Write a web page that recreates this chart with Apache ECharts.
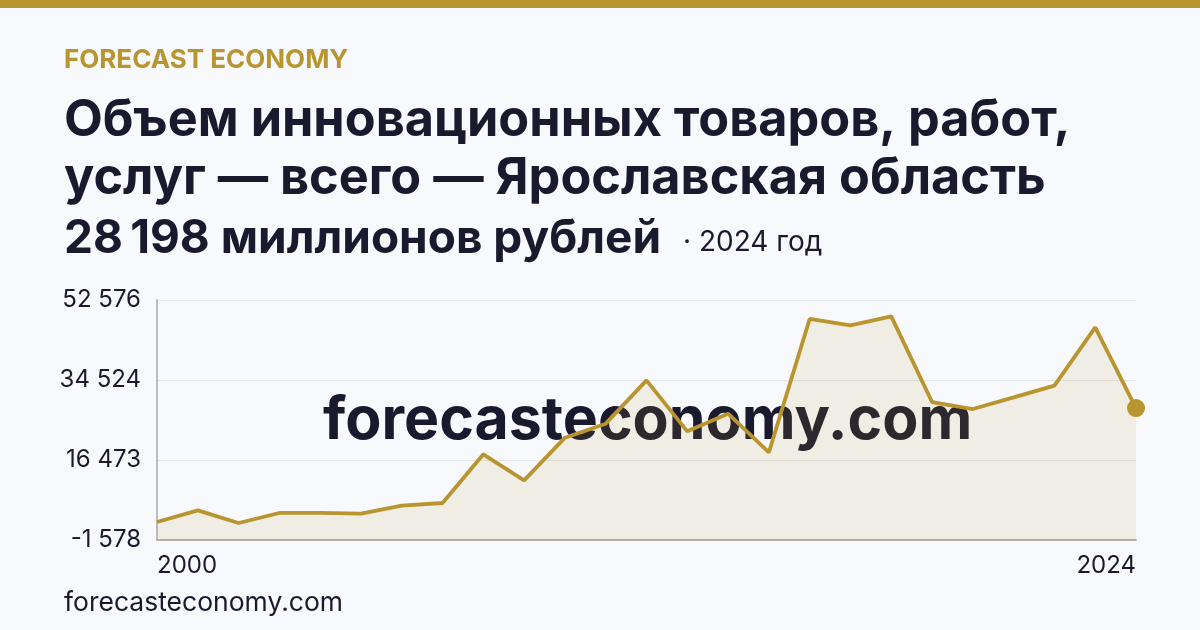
<!DOCTYPE html>
<html>
<head>
<meta charset="utf-8">
<script src="https://cdn.jsdelivr.net/npm/echarts@6/dist/echarts.min.js"></script>
<style>
html,body{margin:0;padding:0;background:#f7f9fc;}
#chart{width:1200px;height:630px;}
</style>
</head>
<body>
<div id="chart"></div>
<script>
// Data
const years = ['2000','2001','2002','2003','2004','2005','2006','2007','2008','2009','2010','2011','2012','2013','2014','2015','2016','2017','2018','2019','2020','2021','2022','2023','2024'];
const values = [2480, 5120, 2260, 4520, 4520, 4370, 6170, 6770, 17750, 11890, 21510, 24670, 34450, 22940, 26930, 18200, 48290, 46860, 48890, 29560, 27980, 30610, 33250, 46410, 28198];
const yTicks = [-1578, 16473, 34524, 52576];

const brand = 'FORECAST ECONOMY';
const titleLines = ['Объем инновационных товаров, работ,', 'услуг — всего — Ярославская область'];
const headline = '28\u202F198 миллионов рублей';
const subline = '· 2024 год';
const site = 'forecasteconomy.com';

const gold = '#b8952e';
const ink = '#1a1a2e';
const FONT = 'Inter, "Noto Sans", sans-serif';

function fmt(n){
  const s = String(Math.abs(n)).replace(/\B(?=(\d{3})+(?!\d))/g, ' ');
  return (n < 0 ? '-' : '') + s;
}
function tickLabel(v){
  let best = yTicks[0];
  yTicks.forEach(t => { if (Math.abs(t - v) < Math.abs(best - v)) best = t; });
  return fmt(best);
}

const chart = echarts.init(document.getElementById('chart'), null, {renderer:'canvas'});
const yMin = yTicks[0], yMax = yTicks[yTicks.length-1];
const lastIdx = values.length - 1;

chart.setOption({
  backgroundColor: '#f7f9fc',
  animation: false,
  grid: {left: 157, right: 64, top: 300, bottom: 90, containLabel: false},
  xAxis: {
    type: 'category',
    data: years,
    boundaryGap: false,
    axisLine: {show: true, onZero: false, lineStyle: {color: '#b7b2a6', width: 2}},
    axisTick: {show: false},
    splitLine: {show: false},
    axisLabel: {
      interval: lastIdx - 1,
      color: ink, fontFamily: FONT, fontSize: 24, margin: 14,
      alignMinLabel: 'left', alignMaxLabel: 'right'
    }
  },
  yAxis: {
    type: 'value',
    min: yMin, max: yMax,
    interval: (yMax - yMin) / (yTicks.length - 1),
    axisLine: {show: true, lineStyle: {color: '#bdbdbd', width: 2}},
    axisTick: {show: false},
    splitLine: {show: true, lineStyle: {color: '#e2e4e9', width: 1}},
    axisLabel: {
      color: ink, fontFamily: FONT, fontSize: 24, margin: 16,
      padding: [5, 0, 0, 0],
      formatter: v => tickLabel(v)
    }
  },
  graphic: [
    {type:'rect', left:0, top:0, shape:{width:1200, height:8}, style:{fill: gold}, z: 10},
    {type:'text', left:64, top:47, style:{text: brand, fill: gold, font: 'bold 26px ' + FONT}, z: 10},
    {type:'text', left:64, top:96, style:{text: titleLines[0], fill: ink, font: 'bold 50.4px ' + FONT}, z: 10},
    {type:'text', left:64, top:154, style:{text: titleLines[1], fill: ink, font: 'bold 50.4px ' + FONT}, z: 10},
    {type:'text', left:64, top:216, style:{text: headline, fill: ink, font: 'bold 46px ' + FONT}, z: 10},
    {type:'text', left:683, top:229, style:{text: subline, fill: ink, font: '28px ' + FONT}, z: 10},
    {type:'text', left:64, top:590, style:{text: site, fill: ink, font: '26.5px ' + FONT}, z: 10},
    {type:'text', left:323, top:392, style:{text: site, fill: ink, font: 'bold 59px ' + FONT}, z: 0, zlevel: 0}
  ],
  series: [{
    type: 'line',
    data: values,
    z: 5,
    smooth: false,
    lineStyle: {color: gold, width: 3.8},
    areaStyle: {color: 'rgba(184,146,46,0.16)', origin: 'start'},
    symbol: 'circle',
    symbolSize: (v, p) => p.dataIndex === lastIdx ? 18 : 0,
    showSymbol: true,
    itemStyle: {color: gold},
    emphasis: {disabled: true}
  }]
});
</script>
</body>
</html>
